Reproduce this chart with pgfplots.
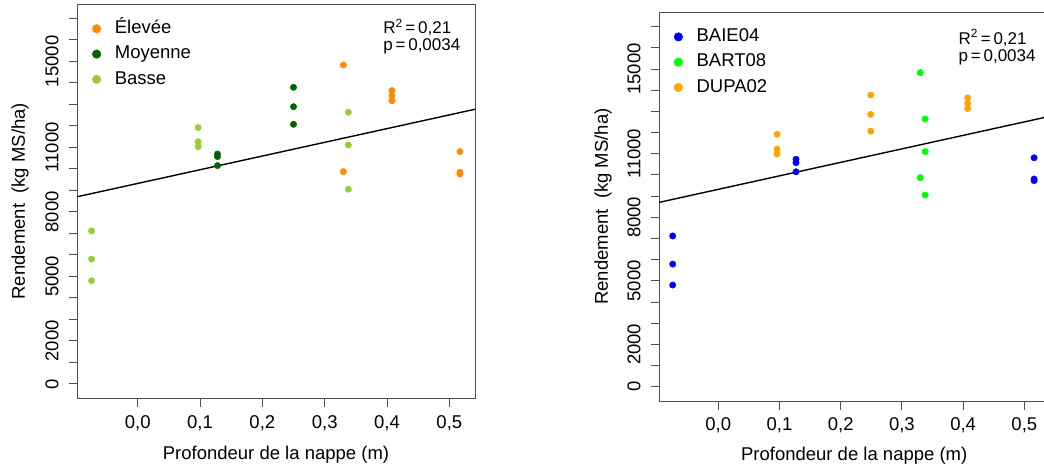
\documentclass[border=0pt]{standalone}
\usepackage{fontspec}
\setmainfont{Liberation Sans}
\usepackage{pgfplots}
\pgfplotsset{compat=1.18}
\definecolor{elevee}{HTML}{FF8C00}
\definecolor{moyenne}{HTML}{006400}
\definecolor{basse}{HTML}{9ACD32}
\definecolor{baie}{HTML}{0000FF}
\definecolor{bart}{HTML}{00FF00}
\definecolor{dupa}{HTML}{FFA500}
\definecolor{axgray}{HTML}{505050}
\newcommand\bigf{\fontsize{18.5pt}{22pt}\selectfont}
\newcommand\midf{\fontsize{17pt}{17.7pt}\selectfont}
\pgfplotsset{
  rstyle/.style={
    scale only axis,
    anchor=south west,
    font=\bigf,
    axis line style={draw=axgray, line width=0.9pt},
    tick style={draw=axgray, line width=0.9pt},
    major tick length=8.5pt,
    tick align=outside,
    xtick pos=bottom, ytick pos=left,
    scaled y ticks=false, scaled x ticks=false,
    xtick={0,0.1,0.2,0.3,0.4,0.5},
    xticklabels={{0,0},{0,1},{0,2},{0,3},{0,4},{0,5}},
    ytick={0,1000,2000,3000,4000,5000,6000,7000,8000,9000,10000,11000,12000,13000,14000,15000,16000,17000},
    yticklabels={0,,2000,,,5000,,,8000,,,11000,,,,15000,,},
    xticklabel style={font=\bigf, inner sep=0pt, anchor=north, yshift=-8pt},
    yticklabel style={font=\bigf, inner sep=0pt, xshift=-9.7pt, rotate=90, anchor=south},
    xlabel={Profondeur de la nappe (m)},
    ylabel={Rendement\ \ (kg MS/ha)},
    xlabel style={font=\bigf, at={(axis description cs:0.5,-0.142)}, anchor=center},
    ylabel style={font=\bigf, at={(axis description cs:-0.143,0.5)}, anchor=center, rotate=0},
    clip=false,
    legend cell align=left,
    legend style={draw=none, fill=none, font=\bigf, row sep=3.8pt,
      nodes={inner sep=1.5pt, text height=14pt, text depth=4.5pt}},
  },
  legend image code/.code={\path[#1, mark size=4.3pt] plot coordinates {(0pt,0pt)}; \path (-4.3pt,0pt) (16.5pt,0pt);},
  dots/.style={only marks, mark=*, mark size=3.2pt, color=#1, mark options={draw=#1, fill=#1, line width=0.4pt}},
}
\begin{document}
\begin{tikzpicture}[x=1pt,y=1pt]
\useasboundingbox (0,0) rectangle (1044,472);
\clip (0,0) rectangle (1044,472);
% ---------------- left panel ----------------
\begin{axis}[rstyle,
  at={(77pt,73.5pt)}, width=398pt, height=394.5pt,
  xmin=-0.0974, xmax=0.5412, ymin=-680, ymax=17665,
  legend style={at={(axis description cs:0.03,0.97)}, anchor=north west}]
\addplot[dots=elevee] coordinates {(0.330,14830) (0.330,9870) (0.408,13640) (0.408,13400) (0.408,13170) (0.517,10800) (0.517,9840) (0.517,9760)};
\addlegendentry{Élevée}
\addplot[dots=moyenne] coordinates {(0.128,10690) (0.128,10570) (0.128,10150) (0.250,13790) (0.250,12890) (0.250,12070)};
\addlegendentry{Moyenne}
\addplot[dots=basse] coordinates {(-0.074,7110) (-0.074,5800) (-0.074,4800) (0.097,11920) (0.097,11260) (0.097,11030) (0.338,12630) (0.338,11110) (0.338,9050)};
\addlegendentry{Basse}
\addplot[black, line width=1.4pt, forget plot] coordinates {(-0.0974,8700) (0.5412,12770)};
\node[font=\midf, align=left, anchor=base west, inner sep=0pt] at (axis description cs:0.769,0.8809) {R\textsuperscript{2}\,=\,0,21\\p\,=\,0,0034};
\end{axis}
% ---------------- right panel ----------------
\begin{axis}[rstyle,
  at={(659pt,71pt)}, width=390.4pt, height=388.7pt,
  xmin=-0.0969, xmax=0.541, ymin=-675, ymax=17680,
  legend style={at={(axis description cs:0.03,0.970)}, anchor=north west}]
\addplot[dots=baie] coordinates {(-0.0745,7120) (-0.0745,5790) (-0.0745,4800) (0.127,10740) (0.127,10580) (0.127,10150) (0.516,10810) (0.516,9810) (0.516,9730)};
\addlegendentry{BAIE04}
\addplot[dots=bart] coordinates {(0.330,14830) (0.338,12640) (0.338,11100) (0.330,9870) (0.338,9050)};
\addlegendentry{BART08}
\addplot[dots=dupa] coordinates {(0.096,11920) (0.096,11220) (0.096,10990) (0.249,13770) (0.249,12860) (0.249,12070) (0.4075,13640) (0.4075,13380) (0.4075,13140)};
\addlegendentry{DUPA02}
\addplot[black, line width=1.4pt, forget plot] coordinates {(-0.0969,8703) (0.541,12766)};
\node[font=\midf, align=left, anchor=base west, inner sep=0pt] at (axis description cs:0.7667,0.8729) {R\textsuperscript{2}\,=\,0,21\\p\,=\,0,0034};
\end{axis}
\end{tikzpicture}
\end{document}
